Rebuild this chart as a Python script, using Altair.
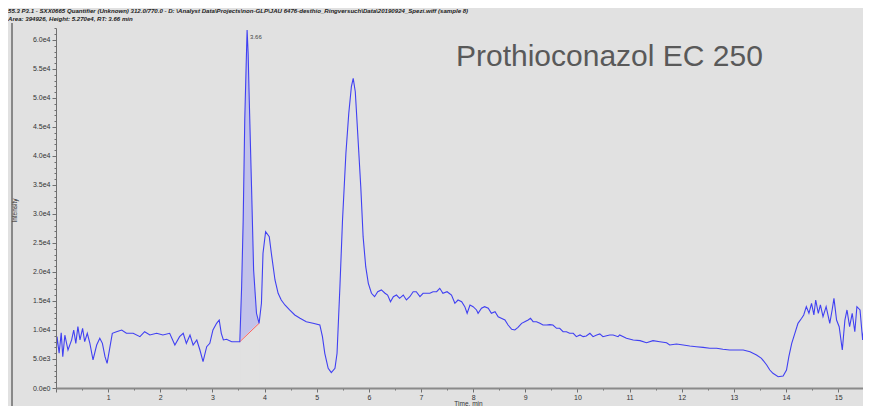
import altair as alt
import pandas as pd

# ---------------- data ----------------
times = [
    0.00, 0.02, 0.06, 0.10, 0.13, 0.17, 0.23, 0.30, 0.34, 0.38, 0.42, 0.46, 0.51, 0.55, 0.60, 0.65,
    0.71, 0.78, 0.84, 0.89, 0.94, 0.98, 1.03, 1.08, 1.16, 1.26, 1.35, 1.48, 1.61, 1.70, 1.80, 1.93,
    2.05, 2.18, 2.28, 2.37, 2.44, 2.50, 2.57, 2.63, 2.70, 2.76, 2.82, 2.89, 2.95, 3.01, 3.08, 3.13,
    3.17, 3.21, 3.27, 3.37, 3.46, 3.525,
    3.56, 3.59, 3.62, 3.645, 3.665, 3.685, 3.70, 3.75, 3.79, 3.845, 3.895,
    3.94, 3.97, 4.02, 4.09, 4.13, 4.20, 4.26, 4.32, 4.39, 4.48, 4.58, 4.68, 4.80, 4.93, 5.06, 5.11,
    5.155, 5.22, 5.28, 5.35, 5.39, 5.445, 5.495, 5.56, 5.615, 5.665, 5.70, 5.74, 5.79, 5.845, 5.89,
    5.94, 5.99, 6.05, 6.11, 6.17, 6.24, 6.31, 6.36,
    6.415, 6.47, 6.53, 6.59, 6.66, 6.72, 6.785, 6.85, 6.91, 6.98, 7.04, 7.105, 7.17, 7.23, 7.30,
    7.36, 7.42, 7.50, 7.585, 7.65, 7.71, 7.78, 7.84, 7.885, 7.94, 8.00, 8.065, 8.095, 8.16, 8.22,
    8.29, 8.35, 8.42, 8.48, 8.54, 8.61, 8.67, 8.74, 8.80, 8.86, 8.93, 8.99, 9.055, 9.10, 9.15, 9.215,
    9.28, 9.34, 9.41, 9.47, 9.53, 9.60, 9.66, 9.725, 9.79, 9.85, 9.92, 9.98, 10.05, 10.11, 10.17,
    10.24, 10.30, 10.37, 10.43, 10.49, 10.56, 10.62, 10.685, 10.78,
    10.81, 10.94, 11.07, 11.20, 11.325, 11.45, 11.58, 11.71, 11.77, 11.90, 12.03, 12.155, 12.28,
    12.41, 12.54, 12.67, 12.79, 12.92, 13.05, 13.18, 13.31, 13.435, 13.53, 13.63, 13.69, 13.75,
    13.85, 13.945, 14.01, 14.055, 14.11, 14.17, 14.23, 14.30, 14.34, 14.39, 14.44, 14.49, 14.535,
    14.57, 14.62, 14.66, 14.71, 14.77, 14.84, 14.885, 14.92, 14.97, 15.02, 15.08, 15.13, 15.17,
    15.22, 15.27, 15.32, 15.36, 15.42, 15.47, 15.51, 15.56, 15.62,
]
intensities = [
    5400, 8850, 6000, 9500, 5400, 9100, 6550, 8300, 10000, 7700, 10570, 8280, 10290, 7980, 9430, 7700,
    4830, 7410, 8570, 7700, 5400, 4250, 6840, 9430, 9700, 10000, 9430, 9430, 8850, 9700, 9140, 9430,
    9140, 9430, 7410, 8850, 9430, 7700, 9140, 7410, 8280, 6550, 4540, 7120, 7700, 10000, 11150, 11720,
    9430, 8280, 8400, 7980, 7980, 7980,
    17460, 28960, 46200, 55000, 61700, 57700, 51950, 34700, 20340, 12880, 11150,
    14600, 23220, 26950, 26090, 23220, 18620, 16330, 15170, 14310, 13450, 12590, 12020, 11430, 11150, 10860, 8850,
    5980, 3400, 2640, 3400, 5980, 17460, 28960, 40460, 47360, 51950, 53390, 51080, 43320, 34700, 26090,
    20910, 18050, 16330, 15740, 16600, 16900, 16330, 16030,
    14880, 15740, 16030, 15460, 16030, 15170, 15740, 16600, 16600, 15740, 16330, 16330, 16330, 16600, 16600,
    17190, 16330, 16600, 16030, 14600, 15170, 14880, 14020, 12880, 14310, 14020, 13450, 12880, 13740, 14020,
    13740, 12880, 13160, 12290, 12020, 11720, 10860, 10120, 10000, 10460, 11150, 11430, 11720, 12020, 11430, 11430,
    11150, 10860, 10860, 10920, 10860, 10290, 10290, 9700, 9700, 9430, 9430, 8850, 9140, 8850, 8960,
    9430, 8850, 9140, 9320, 8850, 9000, 9140, 9140, 8850,
    9140, 8570, 8280, 8160, 7810, 8160, 7980, 7810, 7410, 7580, 7410, 7240, 7120,
    7010, 6840, 6840, 6670, 6550, 6550, 6550, 6260, 5690, 5120, 3970, 3100, 2530,
    1950, 2070, 3100, 5400, 7700, 9430, 11150, 12020, 12590, 14020, 12880, 14600, 12590,
    15170, 12880, 14310, 12290, 14020, 11150, 13450, 15460, 11720, 10570, 6550, 11720, 13450,
    10570, 12880, 9700, 14020, 13450, 8280, 11720, 14600, 9700,
]

# integrated peak: start / end of the drawn baseline
peak_bounds_t = [3.525, 3.895]
peak_bounds_i = [7980, 11150]
peak_rt_label = "3.66"
peak_apex = (3.665, 61700)

title_text = "Prothioconazol EC 250"
header_line1 = "55.3 P3.1 - SXX0665 Quantifier (Unknown) 312.0/770.0 - D: \\Analyst Data\\Projects\\non-GLP\\JAU 6476-desthio_Ringversuch\\Data\\20190924_Spezi.wiff (sample 8)"
header_line2 = "Area: 394926, Height: 5.270e4, RT: 3.66 min"

x_ticks = [i * 0.5 for i in range(0, 31)]
y_ticks = list(range(0, 62001, 1000))

# ---------------- chart ----------------
BG = "#e1e1e1"
LINE = "#4040f2"
W, H = 807, 360
XMAX = 15.477
YMAX = 62060
SMALL_FONT = "Liberation Sans, Arial, sans-serif"

df = pd.DataFrame({"t": times, "i": intensities})
base_df = pd.DataFrame({"t": peak_bounds_t, "i": peak_bounds_i})

xs = alt.Scale(domain=[0, XMAX], nice=False, zero=False)
ys = alt.Scale(domain=[0, YMAX], nice=False)

x_axis = alt.Axis(
    values=x_ticks,
    labelExpr="datum.value % 1 === 0 && datum.value > 0 ? format(datum.value, 'd') : ''",
    tickSize={"condition": {"test": "datum.value % 1 === 0", "value": 4}, "value": 2},
    tickColor="#707070",
    domainColor="#8a8a8a",
    domainWidth=2,
    labelFont=SMALL_FONT,
    labelFontSize=7,
    labelColor="#333333",
    labelPadding=1,
    labelFlush=False,
    labelOverlap=False,
    grid=False,
    title="Time, min",
    titleFont=SMALL_FONT,
    titleFontSize=6.5,
    titleFontWeight="normal",
    titleColor="#333333",
    titleX=412,
    titleY=12,
    titleBaseline="top",
    zindex=1,
)
y_axis = alt.Axis(
    values=y_ticks,
    labelExpr="datum.value % 5000 === 0 ? replace(format(datum.value, '.1e'), '+', '') : ''",
    tickSize={"condition": {"test": "datum.value % 5000 === 0", "value": 4}, "value": 2},
    tickColor="#707070",
    domainColor="#707070",
    labelFont=SMALL_FONT,
    labelFontSize=7,
    labelColor="#333333",
    labelPadding=2,
    labelOverlap=False,
    labelFlush=False,
    grid=False,
    title="Intensity",
    titleFont=SMALL_FONT,
    titleFontSize=6.5,
    titleFontWeight="normal",
    titleColor="#333333",
    titleX=-39,
    titleY=182,
    zindex=1,
)

X = alt.X("t:Q", scale=xs, axis=x_axis)
Y = alt.Y("i:Q", scale=ys, axis=y_axis)

peak_fill = (
    alt.Chart(df)
    .transform_filter(f"datum.t >= {peak_bounds_t[0]} && datum.t <= {peak_bounds_t[1]}")
    .mark_area(color="#c2c2ea", opacity=1)
    .encode(x=X, y=Y)
)
cover = alt.Chart(base_df).mark_area(color=BG, opacity=1, stroke=BG, strokeWidth=1.5).encode(x=X, y=Y)
baseline = alt.Chart(base_df).mark_line(color="#ff5f5f", strokeWidth=1).encode(x=X, y=Y)
trace = alt.Chart(df).mark_line(color=LINE, strokeWidth=1.1, clip=True).encode(x=X, y=Y)

apex_df = pd.DataFrame({"t": [peak_apex[0]], "i": [peak_apex[1]], "lab": [peak_rt_label]})
apex_text = (
    alt.Chart(apex_df)
    .mark_text(align="left", baseline="middle", dx=3, dy=7, fontSize=6,
               font=SMALL_FONT, color="#444444")
    .encode(x=X, y=Y, text="lab:N")
)

title_df = pd.DataFrame({"txt": [title_text]})
title = (
    alt.Chart(title_df)
    .mark_text(align="left", baseline="alphabetic", fontSize=30,
               font="Liberation Sans, Arial, sans-serif", color="#595959")
    .encode(x=alt.value(400), y=alt.value(38), text="txt:N")
)

hdr1_df = pd.DataFrame({"txt": [header_line1]})
hdr2_df = pd.DataFrame({"txt": [header_line2]})
hdr_style = dict(align="left", baseline="top", fontSize=6.1, fontStyle="italic", fontWeight="bold",
                 font=SMALL_FONT, color="#202020")
header1 = alt.Chart(hdr1_df).mark_text(**hdr_style).encode(
    x=alt.value(-48), y=alt.value(-20), text="txt:N"
)
header2 = alt.Chart(hdr2_df).mark_text(**hdr_style).encode(
    x=alt.value(-48), y=alt.value(-12), text="txt:N"
)

frame = alt.Chart(title_df).mark_rule(color="#303030", strokeWidth=1).encode(
    x=alt.value(-44), y=alt.value(-5), y2=alt.value(380)
)

chart = (
    alt.layer(frame, peak_fill, cover, baseline, trace, apex_text, title, header1, header2)
    .properties(
        width=W,
        height=H,
        padding={"left": 48, "top": 20, "right": 0, "bottom": 18},
        autosize=alt.AutoSizeParams(type="none"),
        background=BG,
    )
    .configure_view(stroke=None)
)

chart.save("out.html", embed_options={"renderer": "svg", "actions": False})
